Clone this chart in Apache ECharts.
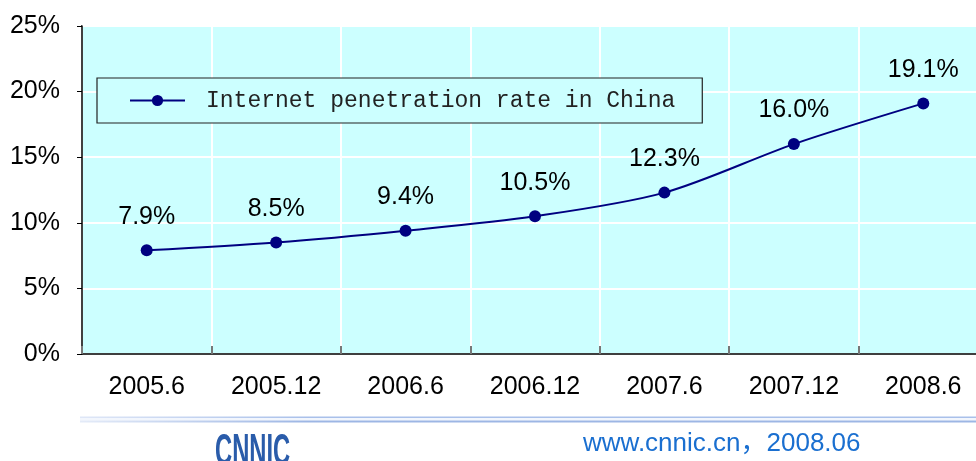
<!DOCTYPE html>
<html>
<head>
<meta charset="utf-8">
<script src="https://cdn.jsdelivr.net/npm/echarts@6/dist/echarts.min.js"></script>
<style>html,body{margin:0;padding:0;background:#fff;overflow:hidden}#c{width:988px;height:461px}</style>
</head>
<body>
<div id="c"></div>
<script>
const categories = ['2005.6','2005.12','2006.6','2006.12','2007.6','2007.12','2008.6'];
const penetration = [7.9, 8.5, 9.4, 10.5, 12.3, 16.0, 19.1];
const seriesName = 'Internet penetration rate in China';
const yTicks = [0, 5, 10, 15, 20, 25];

const chart = echarts.init(document.getElementById('c'));
chart.setOption({
  animation: false,
  backgroundColor: '#ffffff',
  grid: {
    left: 82, top: 26, right: 0, bottom: 107,
    show: true, backgroundColor: '#ccffff', borderColor: '#000', borderWidth: 1.5
  },
  legend: {
    left: 97, top: 78,
    orient: 'horizontal',
    backgroundColor: '#ccffff',
    borderColor: '#222',
    borderWidth: 1.2,
    padding: [11, 27, 11, 32],
    itemWidth: 55, itemHeight: 14,
    textStyle: { fontFamily: 'Liberation Mono', fontSize: 23, color: '#222', padding: [0, 0, 0, 16] },
    data: [seriesName]
  },
  xAxis: {
    type: 'category',
    data: categories,
    boundaryGap: true,
    axisLine: { lineStyle: { color: '#000', width: 1.5 } },
    axisTick: { show: true, inside: true, length: 8, lineStyle: { color: '#777', width: 2 } },
    splitLine: { show: true, lineStyle: { color: '#fff', width: 2 } },
    axisLabel: { fontFamily: 'Liberation Sans', fontSize: 25, color: '#000', margin: 21 }
  },
  yAxis: {
    type: 'value',
    min: 0, max: 25, interval: 5,
    axisLine: { show: true, lineStyle: { color: '#000', width: 1.5 } },
    axisTick: { show: true, length: 5, lineStyle: { color: '#000' } },
    splitLine: { show: true, lineStyle: { color: '#fff', width: 2 } },
    axisLabel: { fontFamily: 'Liberation Sans', fontSize: 25, color: '#000', margin: 22,
      formatter: v => yTicks.includes(v) ? v + '%' : '' }
  },
  series: [{
    name: seriesName,
    type: 'line',
    data: penetration,
    smooth: 0.3,
    symbol: 'circle',
    symbolSize: 12,
    lineStyle: { color: '#000080', width: 2 },
    itemStyle: { color: '#000080' },
    label: { show: true, position: 'top', distance: 15, fontFamily: 'Liberation Sans', fontSize: 25, color: '#000',
      formatter: p => p.value.toFixed(1) + '%' }
  }],
  graphic: [
    { type: 'rect', shape: { x: 80, y: 416.5, width: 912, height: 1.6 },
      style: { fill: new echarts.graphic.LinearGradient(0, 0, 1, 0, [{offset: 0, color: '#dfe7f7'}, {offset: 0.25, color: '#a9c0ea'}, {offset: 1, color: '#a9c0ea'}]) } },
    { type: 'rect', shape: { x: 80, y: 418.1, width: 912, height: 2.5 },
      style: { fill: '#f2f6fd' } },
    { type: 'rect', shape: { x: 80, y: 420.6, width: 912, height: 1.8 },
      style: { fill: new echarts.graphic.LinearGradient(0, 0, 1, 0, [{offset: 0, color: '#e4ebf8'}, {offset: 0.25, color: '#9db6e4'}, {offset: 1, color: '#9db6e4'}]) } },
    { type: 'text', x: 215, y: 431, scaleX: 0.54,
      style: { text: 'CNNIC', font: 'bold 44px "Liberation Sans"', fill: '#2a5caa' } },
    { type: 'text', left: 583, top: 431,
      style: { text: 'www.cnnic.cn，2008.06', font: '26px "Liberation Sans", "Noto Sans CJK SC"', fill: '#1a6fd0' } }
  ]
});
</script>
</body>
</html>
